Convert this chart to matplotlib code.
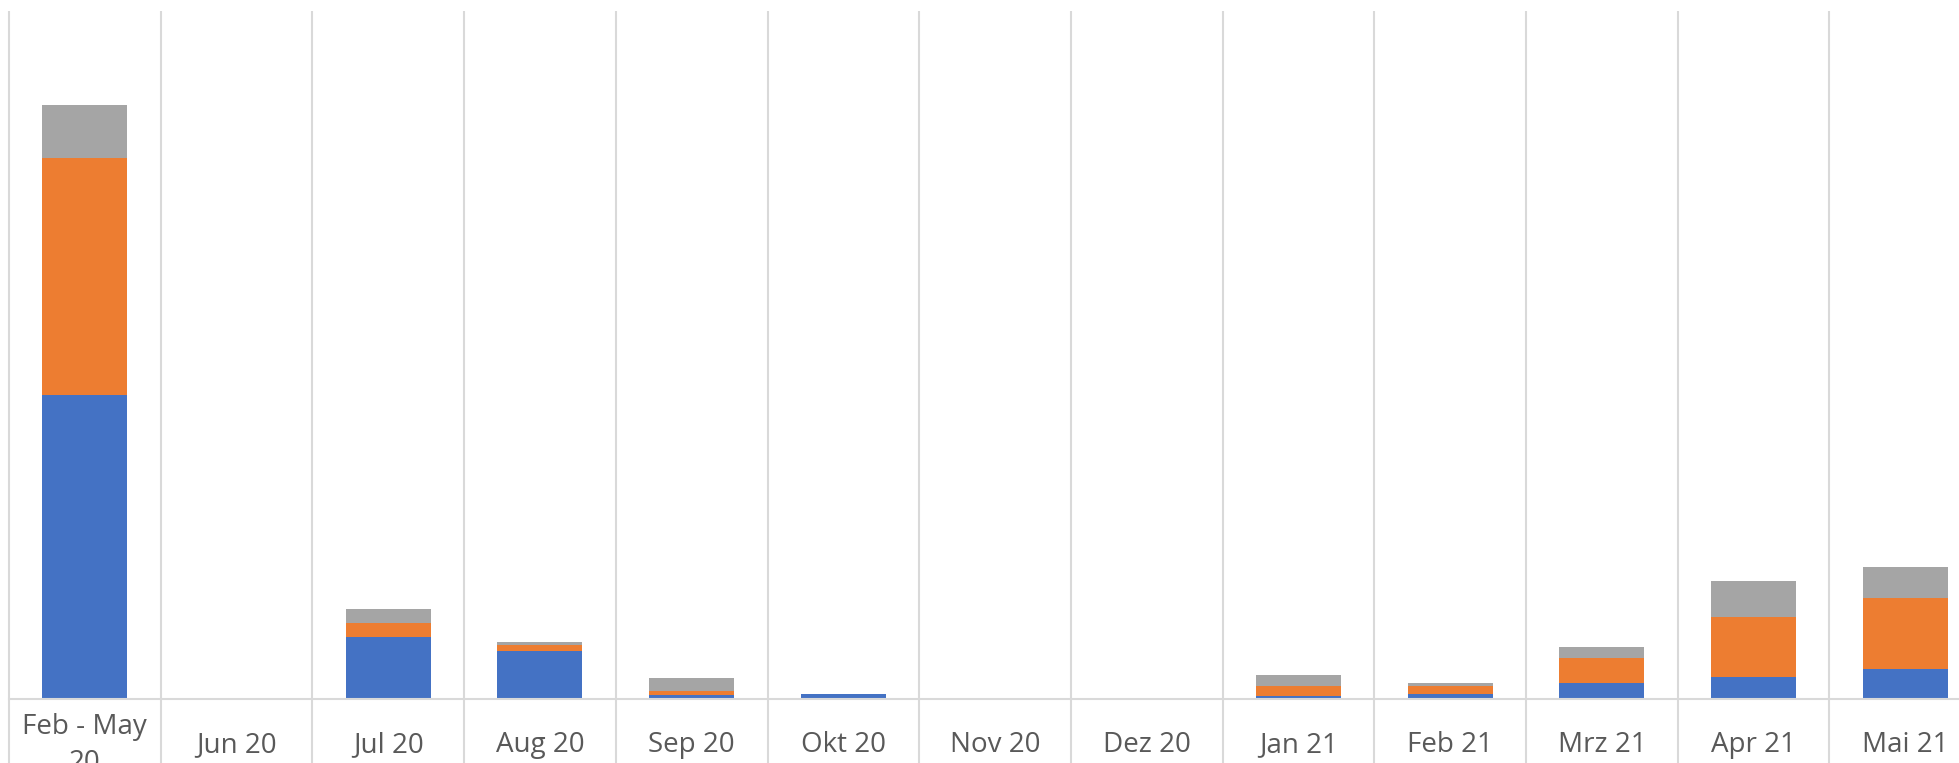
import matplotlib.pyplot as plt
import numpy as np

# Kategorien und Werte
monate = ['Feb - May\n20', 'Jun 20', 'Jul 20', 'Aug 20', 'Sep 20', 'Okt 20', 'Nov 20',
          'Dez 20', 'Jan 21', 'Feb 21', 'Mrz 21', 'Apr 21', 'Mai 21']
blau = [304, 0, 62, 48, 4, 4.5, 0, 0, 2.5, 4.5, 15.5, 21.5, 30]
orange = [237, 0, 14, 6, 3.5, 0, 0, 0, 10, 8, 25, 60, 71]
grau = [53, 0, 14, 3, 13, 0, 0, 0, 11.5, 3, 11, 36, 30.5]

plt.rcParams['font.family'] = ['Open Sans', 'DejaVu Sans']

W, H = 1959, 763
fig = plt.figure(figsize=(W / 100, H / 100), dpi=100)
# Achse ragt rechts über das Bild hinaus (Original ist abgeschnitten)
links, unten, oben = 9, 698.5, 11
breite = 13 * 151.7
ax = fig.add_axes([links / W, (H - unten) / H, breite / W, (unten - oben) / H])

x = np.arange(len(monate))
b1 = np.array(blau)
b2 = np.array(orange)
b3 = np.array(grau)
bw = 0.56
ax.bar(x, b1, bw, color='#4472C4')
ax.bar(x, b2, bw, bottom=b1, color='#ED7D31')
ax.bar(x, b3, bw, bottom=b1 + b2, color='#A5A5A5')

ax.set_xlim(-0.5, len(monate) - 0.5)
ax.set_ylim(0, unten - oben)
for s in ax.spines.values():
    s.set_visible(False)
ax.set_xticks([])
ax.set_yticks([])

# senkrechte Trennlinien bis zum unteren Bildrand
ax_h = unten - oben
y_unten = -(H - unten) / ax_h
ax.vlines(np.arange(len(monate) + 1) - 0.5, y_unten, 1, colors='#D9D9D9', linewidth=1.5,
          transform=ax.get_xaxis_transform(), clip_on=False, zorder=0)
ax.axhline(0, color='#D9D9D9', linewidth=1.5, zorder=3, clip_on=False)

# Beschriftungen
y_text = -(745 - unten) / ax_h
for i, m in enumerate(monate):
    ax.text(i, y_text, m, transform=ax.get_xaxis_transform(), ha='center', va='center',
            fontsize=20, color='#595959', linespacing=1.35)

plt.savefig('out.png', dpi=100)
